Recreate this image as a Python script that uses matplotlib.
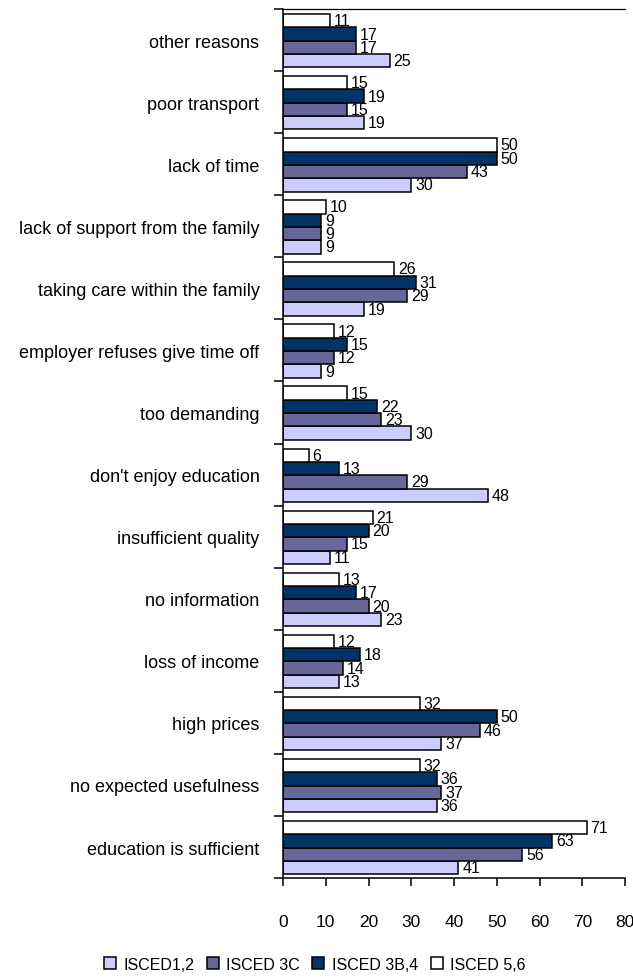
import numpy as np
import matplotlib
matplotlib.use("Agg")
import matplotlib.pyplot as plt
from matplotlib.ticker import FixedLocator

plt.rcParams['font.family'] = ['Liberation Sans', 'DejaVu Sans']

# reasons for not taking part in education, by level of education (%)
categories = [
    "other reasons",
    "poor transport",
    "lack of time",
    "lack of support from the family",
    "taking care within the family",
    "employer refuses give time off",
    "too demanding",
    "don't enjoy education",
    "insufficient quality",
    "no information",
    "loss of income",
    "high prices",
    "no expected usefulness",
    "education is sufficient",
]
isced_12 = [25, 19, 30, 9, 19, 9, 30, 48, 11, 23, 13, 37, 36, 41]
isced_3c = [17, 15, 43, 9, 29, 12, 23, 29, 15, 20, 14, 46, 37, 56]
isced_3b4 = [17, 19, 50, 9, 31, 15, 22, 13, 20, 17, 18, 50, 36, 63]
isced_56 = [11, 15, 50, 10, 26, 12, 15, 6, 21, 13, 12, 32, 32, 71]

series = [
    ("ISCED1,2", isced_12, "#ccccff"),
    ("ISCED 3C", isced_3c, "#666699"),
    ("ISCED 3B,4", isced_3b4, "#003366"),
    ("ISCED 5,6", isced_56, "#ffffff"),
]

fig = plt.figure(figsize=(6.33, 9.79), dpi=100)
ax = fig.add_axes([0.4471, 0.1021, 0.5403, 0.8876])

y = np.arange(len(categories))
h = 0.215
for k, (name, vals, col) in enumerate(series):
    pos = y + (1.5 - k) * h + 0.01
    ax.barh(pos, vals, height=h, color=col, edgecolor="black",
            linewidth=1.1, label=name)
    for p, v in zip(pos, vals):
        ax.text(v + 0.9, p, str(v), va="center", ha="left", fontsize=11.5)

ax.set_xlim(0, 80)
ax.set_ylim(len(categories) - 0.5, -0.5)
ax.set_xticks(range(0, 81, 10))
ax.set_yticks(y)
ax.set_yticklabels(categories, fontsize=13)
ax.yaxis.set_minor_locator(FixedLocator(np.arange(-0.5, len(categories), 1)))
ax.tick_params(axis="y", which="major", length=0, pad=17)
ax.tick_params(axis="y", which="minor", length=6.5, width=1.1, direction="out")
ax.tick_params(axis="x", length=6, width=1.1, direction="out", labelsize=12.5, pad=20)

ax.spines["right"].set_visible(False)
for s in ("left", "bottom"):
    ax.spines[s].set_linewidth(1.1)
ax.spines["top"].set_linewidth(0.9)

fig.legend(loc="center", bbox_to_anchor=(0.497, 0.0143), ncol=4, frameon=False,
           fontsize=11.5, handlelength=0.75, handleheight=0.75, handletextpad=0.45,
           columnspacing=0.8)

fig.savefig("out.png", dpi=100)
